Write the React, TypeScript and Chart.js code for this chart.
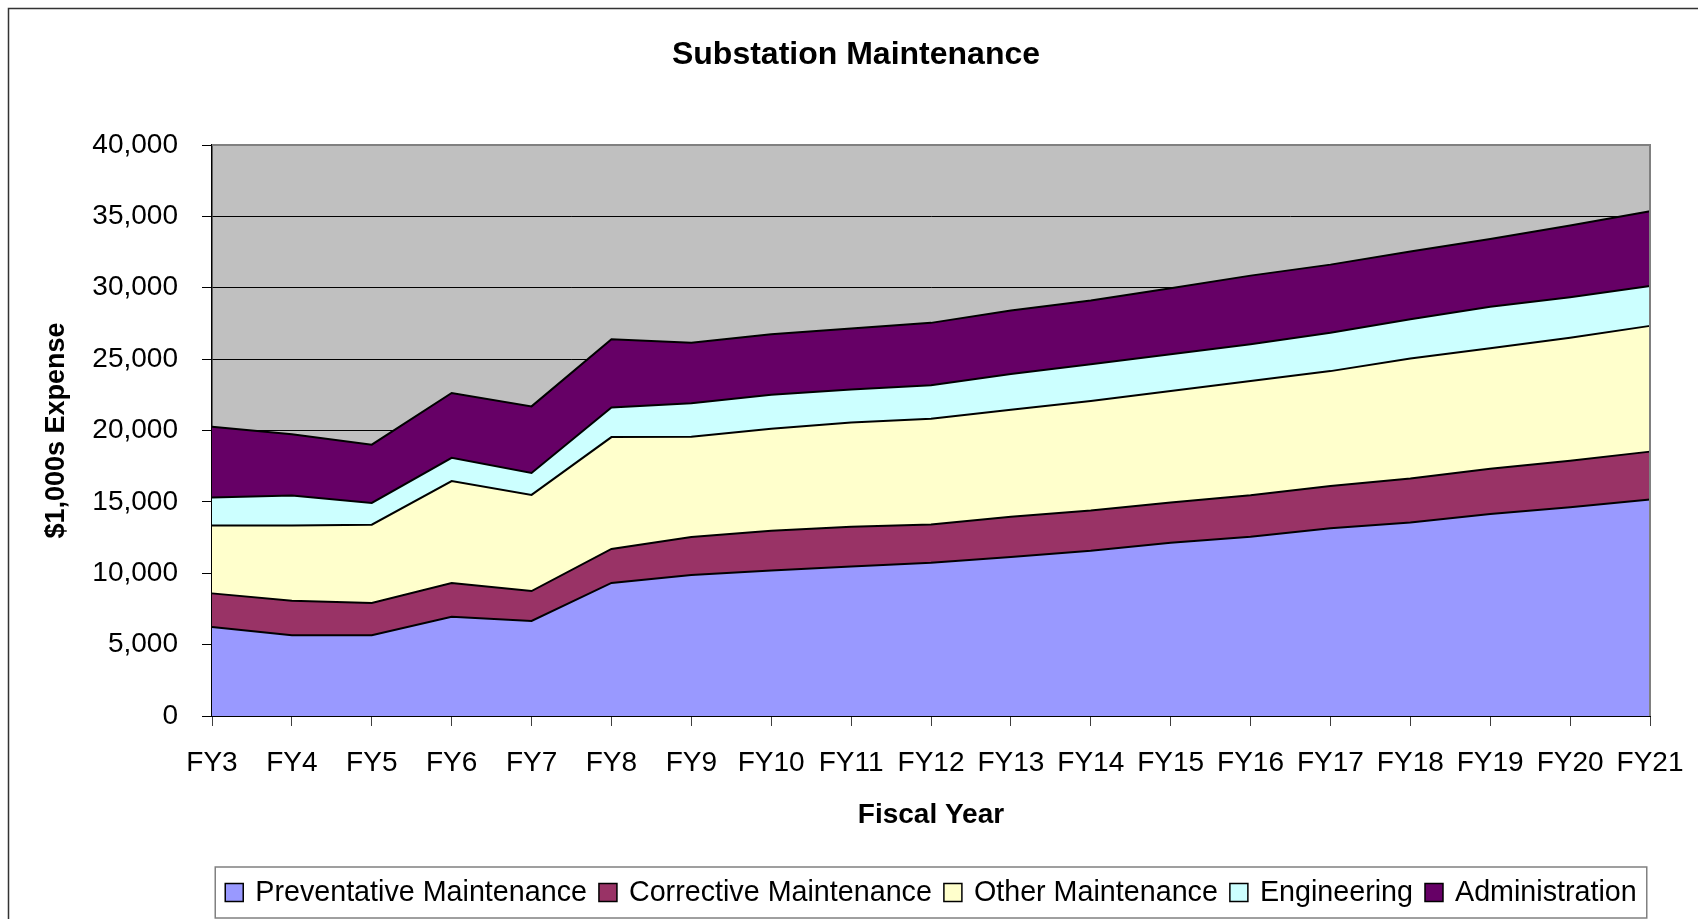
import React, { useEffect, useRef } from "react";
import { Chart, registerables } from "chart.js";

Chart.register(...registerables);

const categories = ["FY3","FY4","FY5","FY6","FY7","FY8","FY9","FY10","FY11","FY12","FY13","FY14","FY15","FY16","FY17","FY18","FY19","FY20","FY21"];
const preventative = [6230, 5660, 5660, 6950, 6660, 9320, 9880, 10200, 10470, 10740, 11140, 11570, 12130, 12560, 13150, 13560, 14150, 14630, 15170];
const corrective = [2360, 2420, 2260, 2370, 2090, 2380, 2660, 2770, 2790, 2680, 2820, 2820, 2820, 2900, 2960, 3080, 3170, 3250, 3350];
const otherMaint = [4750, 5260, 5480, 7140, 6740, 7840, 7030, 7160, 7300, 7410, 7490, 7680, 7820, 8000, 8050, 8410, 8450, 8620, 8810];
const engineering = [1960, 2100, 1530, 1630, 1530, 2070, 2340, 2370, 2310, 2340, 2500, 2570, 2570, 2580, 2690, 2740, 2900, 2840, 2790];
const administration = [4970, 4290, 4080, 4540, 4670, 4780, 4240, 4240, 4270, 4370, 4450, 4460, 4620, 4810, 4770, 4750, 4750, 5020, 5240];

const seriesNames = ["Preventative Maintenance", "Corrective Maintenance", "Other Maintenance", "Engineering", "Administration"];
const seriesColors = ["#9999FF", "#993366", "#FFFFCC", "#CCFFFF", "#660066"];
const chartTitle = "Substation Maintenance";

const FONT = "'Liberation Sans', Arial, sans-serif";

const decorPlugin = {
  id: "decor",
  beforeDraw(chart: any) {
    const { ctx, chartArea } = chart;
    const { left, top, right, bottom } = chartArea;
    ctx.save();
    ctx.fillStyle = "#ffffff";
    ctx.fillRect(0, 0, chart.width, chart.height);
    // outer frame
    ctx.strokeStyle = "#333333";
    ctx.lineWidth = 1.5;
    ctx.beginPath();
    ctx.moveTo(8.5, chart.height);
    ctx.lineTo(8.5, 8.5);
    ctx.lineTo(chart.width, 8.5);
    ctx.stroke();
    // plot background
    ctx.fillStyle = "#C0C0C0";
    ctx.fillRect(left, top, right - left, bottom - top);
    // title
    ctx.fillStyle = "#000000";
    ctx.font = `bold 32px ${FONT}`;
    ctx.textAlign = "center";
    ctx.textBaseline = "middle";
    ctx.fillText(chartTitle, 856, 55);
    ctx.restore();
  },
  afterDatasetsDraw(chart: any) {
    const { ctx, chartArea } = chart;
    const { left, top, right, bottom } = chartArea;
    ctx.save();
    ctx.strokeStyle = "#808080";
    ctx.lineWidth = 2;
    ctx.beginPath();
    ctx.moveTo(left, top);
    ctx.lineTo(right, top);
    ctx.lineTo(right, bottom);
    ctx.stroke();
    ctx.restore();
  },
  afterDraw(chart: any) {
    const { ctx, chartArea } = chart;
    const ds = chart.data.datasets;
    ctx.save();
    ctx.font = `28.7px ${FONT}`;
    const sq = 18;
    const gapSqText = 12;
    const gapItems = 12;
    const pad = 10;
    const widths = ds.map((d: any) => ctx.measureText(d.label).width);
    let total = pad * 2;
    widths.forEach((w: number, i: number) => {
      total += sq + gapSqText + w + (i < widths.length - 1 ? gapItems : 0);
    });
    const cx = (chartArea.left + chartArea.right) / 2;
    const boxLeft = cx - total / 2;
    const boxTop = 867;
    const boxH = 51;
    ctx.strokeStyle = "#808080";
    ctx.lineWidth = 1.5;
    ctx.strokeRect(boxLeft, boxTop, total, boxH);
    const cy = boxTop + boxH / 2;
    let x = boxLeft + pad;
    ctx.textBaseline = "middle";
    ctx.textAlign = "left";
    ds.forEach((d: any, i: number) => {
      ctx.fillStyle = d.backgroundColor;
      ctx.fillRect(x, cy - sq / 2, sq, sq);
      ctx.strokeStyle = "#000000";
      ctx.lineWidth = 1.5;
      ctx.strokeRect(x, cy - sq / 2, sq, sq);
      x += sq + gapSqText;
      ctx.fillStyle = "#000000";
      ctx.fillText(d.label, x, cy + 1);
      x += widths[i] + gapItems;
    });
    ctx.restore();
  },
};

export default function App() {
  const canvasRef = useRef<HTMLCanvasElement | null>(null);

  useEffect(() => {
    if (!canvasRef.current) return;
    const values = [preventative, corrective, otherMaint, engineering, administration];
    const chart = new Chart(canvasRef.current, {
      type: "line",
      data: {
        labels: categories,
        datasets: values.map((v, i) => ({
          label: seriesNames[i],
          data: v,
          backgroundColor: seriesColors[i],
          borderColor: "#000000",
          borderWidth: 2,
          pointRadius: 0,
          pointHoverRadius: 0,
          tension: 0,
          fill: i === 0 ? "origin" : "-1",
        })),
      },
      options: {
        responsive: false,
        animation: false,
        events: [],
        layout: { padding: { left: 0, right: 48, top: 145, bottom: 73 } },
        plugins: {
          legend: { display: false },
          tooltip: { enabled: false },
          title: { display: false },
        },
        scales: {
          x: {
            type: "category",
            offset: false,
            afterFit: (scale: any) => {
              scale.height = 130;
              scale.paddingRight = 0;
              scale.paddingLeft = 0;
            },
            grid: {
              drawOnChartArea: false,
              drawTicks: true,
              tickLength: 10,
              tickColor: "#404040",
              lineWidth: 1,
            },
            border: { display: true, color: "#000000", width: 2 },
            ticks: {
              color: "#000000",
              font: { family: FONT, size: 28 },
              padding: 20,
              autoSkip: false,
              maxRotation: 0,
              minRotation: 0,
            },
            title: {
              display: true,
              text: "Fiscal Year",
              color: "#000000",
              font: { family: FONT, size: 28, weight: "bold" },
              padding: { top: 0, bottom: 14 },
            },
          },
          y: {
            stacked: true,
            min: 0,
            max: 40000,
            afterFit: (scale: any) => { scale.width = 212; },
            grid: {
              color: "#000000",
              lineWidth: 1,
              drawTicks: true,
              tickLength: 10,
              tickColor: "#000000",
            },
            border: { display: true, color: "#000000", width: 1.5 },
            ticks: {
              stepSize: 5000,
              color: "#000000",
              font: { family: FONT, size: 28 },
              padding: 24,
            },
            title: {
              display: true,
              text: "$1,000s Expense",
              color: "#000000",
              font: { family: FONT, size: 27, weight: "bold" },
              padding: { top: 40, bottom: 0 },
            },
          },
        },
      },
      plugins: [decorPlugin],
    });
    return () => chart.destroy();
  }, []);

  return (
    <div style={{ position: "fixed", left: 0, top: 0, width: 1698, height: 919, overflow: "hidden", background: "#ffffff" }}>
      <canvas ref={canvasRef} width={1698} height={919} style={{ display: "block" }} />
    </div>
  );
}
